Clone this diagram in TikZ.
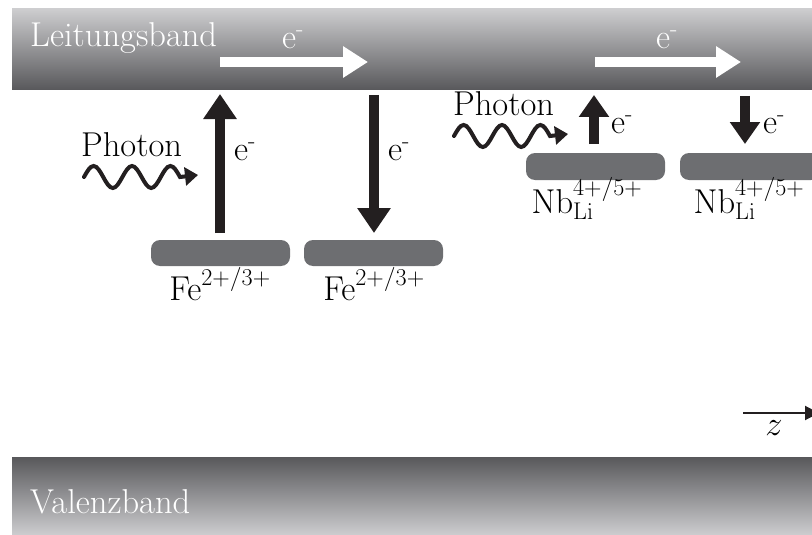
\RequirePackage{fix-cm}
\documentclass[tikz,border=0pt]{standalone}
\usetikzlibrary{arrows.meta}
\definecolor{lvl}{HTML}{6D6E71}
\definecolor{blk}{HTML}{231F20}
\definecolor{bandlight}{HTML}{CDCDCF}
\definecolor{banddark}{HTML}{58585B}
\begin{document}
\begin{tikzpicture}[x=1pt,y=-1pt,
  every node/.style={font=\fontsize{34.5}{40}\selectfont, inner sep=0pt},
  cbandbox/.style={minimum width=800pt, minimum height=81pt, top color=bandlight, bottom color=banddark},
  vbandbox/.style={minimum width=800pt, minimum height=78pt, top color=banddark, bottom color=bandlight},
  bandtext/.style={text=white, anchor=base west},
  levelbox/.style={fill=lvl, rounded corners=9pt, minimum width=139pt, minimum height=26pt},
  whitearrow/.style={white, line width=10pt, -{Triangle[width=30pt,length=25pt]}},
  bigarrow/.style={blk, line width=10.5pt, -{Triangle[width=32pt,length=25pt]}},
  smallarrow/.style={blk, line width=10.5pt, -{Triangle[width=29pt,length=22pt]}},
  photon/.style={blk, line width=4pt, line cap=round, -{Triangle[width=18pt,length=13pt]}},
  photonwave/.style={insert path={
    sin ++(9.6,-11) cos ++(9.6,11) sin ++(9.6,11) cos ++(9.6,-11)
    sin ++(9.6,-11) cos ++(9.6,11) sin ++(9.6,11) cos ++(9.6,-11)
    sin ++(9.6,-11) cos ++(9.6,11)}},
]
\useasboundingbox (0,0) rectangle (812,535);

% bands
\node[cbandbox] (cb) at (412,49.5) {};
\node[vbandbox] (vb) at (412,496) {};
\node[bandtext] (lt) at (30,47) {Leitungsband};
\node[bandtext] (vt) at (30,513) {Valenzband};

% white arrows in conduction band
\coordinate (w1s) at (220,62);
\coordinate (w1e) at (368,62);
\coordinate (w2s) at (595,62);
\coordinate (w2e) at (741,62);
\draw[whitearrow] (w1s) -- (w1e);
\draw[whitearrow] (w2s) -- (w2e);
\node[text=white] (we1) at (293,40) {e\textsuperscript{-}};
\node[text=white] (we2) at (667,40) {e\textsuperscript{-}};

% Fe levels
\node[levelbox] (fe1) at (220.5,253) {};
\node[levelbox] (fe2) at (373.5,253) {};
\node[anchor=base] (fel1) at (220,300) {$\mathrm{Fe}^{2+/3+}$};
\node[anchor=base] (fel2) at (374,300) {$\mathrm{Fe}^{2+/3+}$};

% Nb levels
\node[levelbox, minimum height=27pt] (nb1) at (595.5,166.5) {};
\node[levelbox, minimum height=27pt, minimum width=140pt] (nb2) at (750,166.5) {};
\node[anchor=base] (nbl1) at (587,213) {$\mathrm{Nb}_{\mathrm{Li}}^{4+/5+}$};
\node[anchor=base] (nbl2) at (749,213) {$\mathrm{Nb}_{\mathrm{Li}}^{4+/5+}$};

% Fe transitions
\coordinate (a1s) at (220,233);
\coordinate (a1e) at (220,94);
\coordinate (a2s) at (374,95);
\coordinate (a2e) at (374,233);
\draw[bigarrow] (a1s) -- (a1e);
\draw[bigarrow] (a2s) -- (a2e);
\node (e1) at (245,152) {e\textsuperscript{-}};
\node (e2) at (399,152) {e\textsuperscript{-}};

% Nb transitions
\coordinate (b1s) at (594,144);
\coordinate (b1e) at (594,95);
\coordinate (b2s) at (745,96);
\coordinate (b2e) at (745,144);
\draw[smallarrow] (b1s) -- (b1e);
\draw[smallarrow] (b2s) -- (b2e);
\node (e3) at (622,125) {e\textsuperscript{-}};
\node (e4) at (774,125) {e\textsuperscript{-}};

% photons
\node[anchor=base west] (ph1) at (81,157) {Photon};
\node[anchor=base west] (ph2) at (453,115) {Photon};
\coordinate (p1s) at (84,177);
\coordinate (p1e) at (198,175);
\coordinate (p2s) at (454,136);
\coordinate (p2e) at (568,134);
\draw[photon] (p1s) [photonwave] -- (p1e);
\draw[photon] (p2s) [photonwave] -- (p2e);

% z axis
\coordinate (z1) at (743,413);
\coordinate (z2) at (819,413);
\draw[blk, line width=2pt, -{Triangle[width=14pt,length=14pt]}] (z1) -- (z2);
\node (zl) at (774,428) {$z$};
\end{tikzpicture}
\end{document}
